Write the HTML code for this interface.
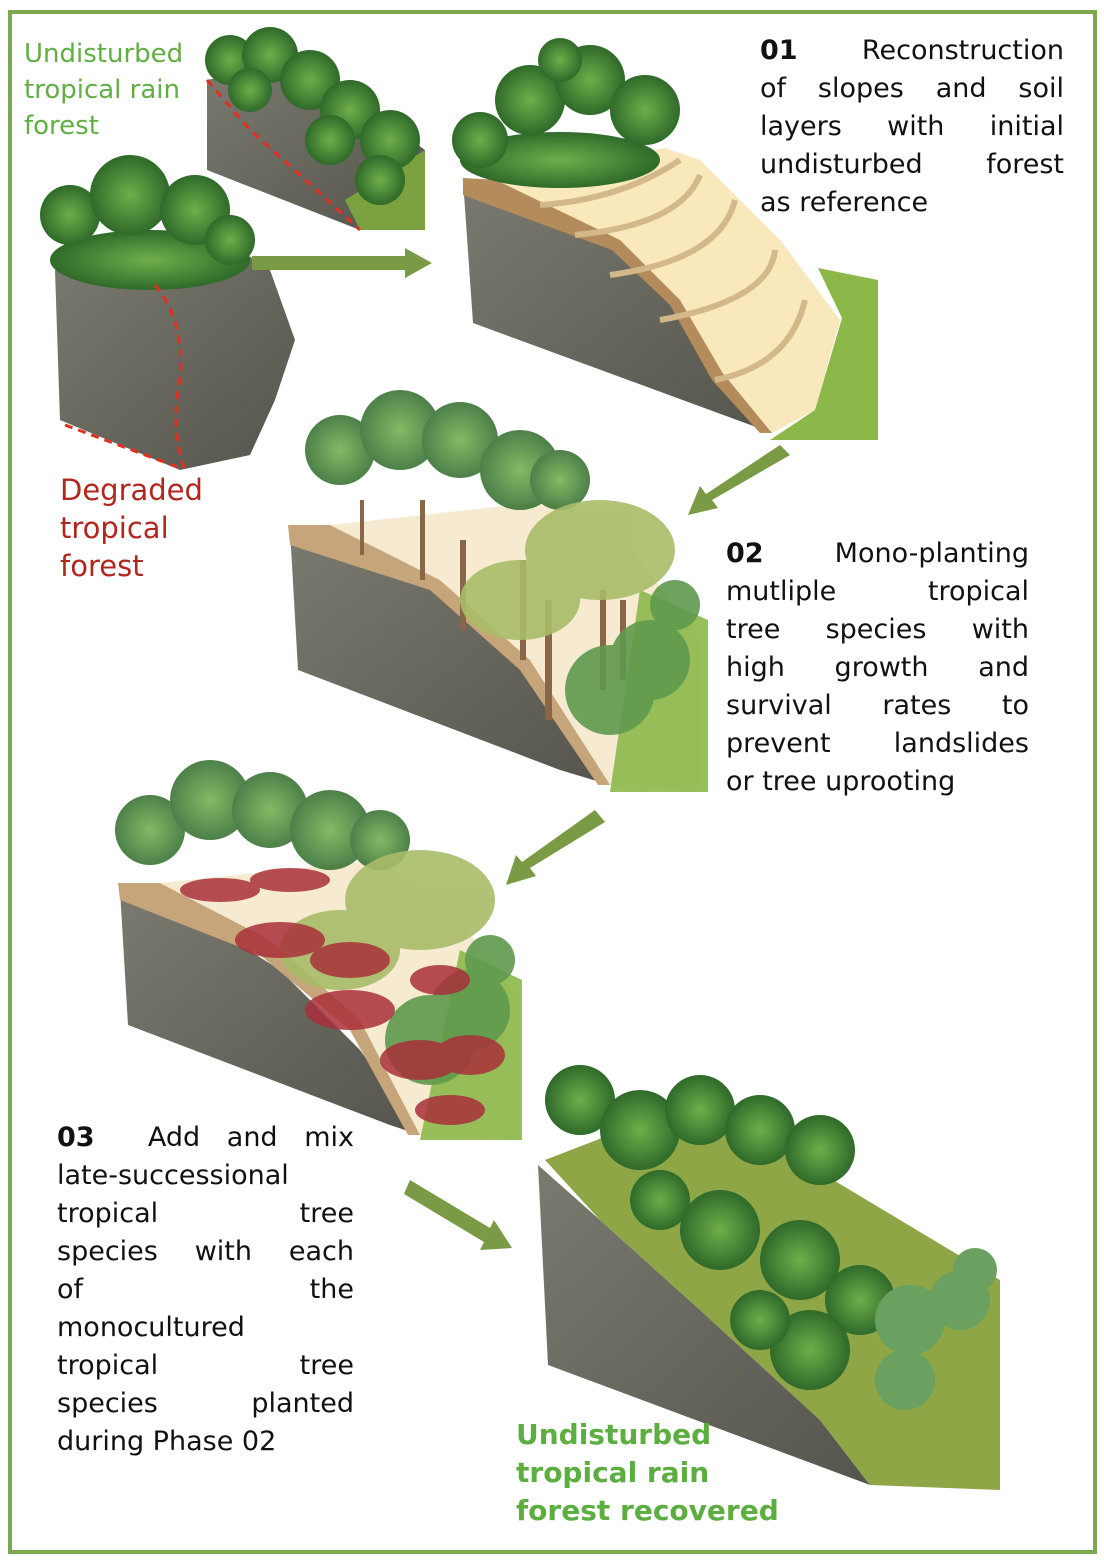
<!DOCTYPE html>
<html><head><meta charset="utf-8"><style>
html,body{margin:0;padding:0;background:#fff}
.wrap{position:relative;width:1104px;height:1560px;overflow:hidden}
.frame{position:absolute;left:8px;top:10px;width:1081px;height:1536px;border:4px solid #7ea84e}
svg{position:absolute;left:0;top:0}
.t{position:absolute;font-family:"DejaVu Sans","Liberation Sans",sans-serif;font-size:27px;line-height:38px;color:#111;white-space:nowrap}
.t div{text-align:justify;text-align-last:justify}
.t div.l{text-align:left;text-align-last:left}
.t b{font-weight:bold}
</style></head><body><div class="wrap">
<div class="frame"></div>
<svg width="1104" height="1560" viewBox="0 0 1104 1560">
<defs>
<linearGradient id="rk" x1="0" y1="0" x2="1" y2="1"><stop offset="0" stop-color="#7a7a70"/><stop offset="1" stop-color="#55554d"/></linearGradient>
<radialGradient id="tr"><stop offset="0" stop-color="#6fae4a"/><stop offset="1" stop-color="#2f6a2a"/></radialGradient>
</defs>
<polygon points="207,80 207,170 360,230 425,230 425,150 300,60" fill="url(#rk)"/>
<polygon points="345,200 425,150 425,230 360,230" fill="#7aa040"/>
<g fill="url(#tr)"><circle cx="230" cy="60" r="25"/><circle cx="270" cy="55" r="28"/><circle cx="310" cy="80" r="30"/><circle cx="350" cy="110" r="30"/><circle cx="390" cy="140" r="30"/><circle cx="250" cy="90" r="22"/><circle cx="330" cy="140" r="25"/><circle cx="380" cy="180" r="25"/></g>
<polyline points="207,80 250,130 300,175 360,230" fill="none" stroke="#e03020" stroke-width="3" stroke-dasharray="8,6"/>
<polygon points="55,270 60,420 180,470 250,455 275,400 295,340 270,270 240,250" fill="url(#rk)"/>
<g fill="url(#tr)"><ellipse cx="150" cy="260" rx="100" ry="30"/><circle cx="70" cy="215" r="30"/><circle cx="130" cy="195" r="40"/><circle cx="195" cy="210" r="35"/><circle cx="230" cy="240" r="25"/></g>
<path d="M155,285 Q185,320 180,380 Q170,430 185,470" fill="none" stroke="#e03020" stroke-width="3" stroke-dasharray="8,6"/>
<line x1="65" y1="425" x2="180" y2="468" stroke="#e03020" stroke-width="3" stroke-dasharray="8,6"/>
<polygon points="252,256 405,256 405,248 432,263 405,278 405,270 252,270" fill="#7a9a45"/>
<polygon points="463,180 473,323 737,420 770,432 720,375 680,300 620,240 500,185" fill="url(#rk)"/>
<polygon points="463,178 500,180 620,235 680,295 722,372 772,433 760,433 712,380 670,305 612,250 463,195" fill="#b48c5c"/>
<polygon points="500,182 665,148 700,160 780,240 840,320 815,410 772,433 722,372 680,300 620,240" fill="#f8e8bc"/>
<g fill="none" stroke="#d3b88a" stroke-width="6"><path d="M540,205 Q620,200 680,160"/><path d="M575,235 Q680,225 700,175"/><path d="M610,275 Q720,260 735,200"/><path d="M660,320 Q770,300 775,250"/><path d="M715,380 Q790,365 805,300"/></g>
<polygon points="818,268 878,280 878,440 770,440 815,410 842,318" fill="#8cb84a"/>
<g fill="url(#tr)"><ellipse cx="560" cy="160" rx="100" ry="28"/><circle cx="480" cy="140" r="28"/><circle cx="530" cy="100" r="35"/><circle cx="590" cy="80" r="35"/><circle cx="645" cy="110" r="35"/><circle cx="560" cy="60" r="22"/></g>
<polygon points="780,445 790,455 712,500 718,508 688,515 700,486 706,494" fill="#7a9a45"/>
<polygon points="290,530 298,670 560,770 610,785 560,700 480,620 380,545" fill="url(#rk)"/>
<polygon points="288,525 330,525 440,580 530,660 610,785 598,785 520,670 430,590 290,545" fill="#c5a579"/>
<polygon points="330,525 560,500 640,560 700,640 700,790 610,785 530,660 440,580" fill="#f6ead0"/>
<polygon points="640,590 708,620 708,792 610,792" fill="#8cb84a" opacity="0.9"/>
<g fill="#8a6648"><rect x="360" y="500" width="4" height="55"/><rect x="420" y="500" width="5" height="80"/><rect x="460" y="540" width="6" height="90"/><rect x="520" y="560" width="6" height="100"/><rect x="545" y="600" width="7" height="120"/><rect x="600" y="590" width="6" height="100"/><rect x="620" y="600" width="6" height="80"/></g>
<g fill="url(#tr)" opacity="0.85"><circle cx="340" cy="450" r="35"/><circle cx="400" cy="430" r="40"/><circle cx="460" cy="440" r="38"/><circle cx="520" cy="470" r="40"/><circle cx="560" cy="480" r="30"/></g>
<g fill="#a8bc68" opacity="0.9"><ellipse cx="600" cy="550" rx="75" ry="50"/><ellipse cx="520" cy="600" rx="60" ry="40"/></g>
<g fill="#5f9a4e" opacity="0.9"><circle cx="610" cy="690" r="45"/><circle cx="650" cy="660" r="40"/><circle cx="675" cy="605" r="25"/></g>
<polygon points="595,810 605,822 530,868 536,876 506,885 516,855 522,862" fill="#7a9a45"/>
<polygon points="120,890 128,1025 390,1125 420,1135 360,1050 280,970 170,900" fill="url(#rk)"/>
<polygon points="118,883 160,883 270,940 360,1020 420,1135 408,1135 350,1030 260,955 120,900" fill="#c5a579"/>
<polygon points="160,883 380,860 460,920 520,1000 520,1140 420,1135 360,1020 270,940" fill="#f6ead0"/>
<polygon points="460,950 522,980 522,1140 420,1140" fill="#8cb84a" opacity="0.9"/>
<g fill="url(#tr)" opacity="0.85"><circle cx="150" cy="830" r="35"/><circle cx="210" cy="800" r="40"/><circle cx="270" cy="810" r="38"/><circle cx="330" cy="830" r="40"/><circle cx="380" cy="840" r="30"/></g>
<g fill="#a8bc68" opacity="0.9"><ellipse cx="420" cy="900" rx="75" ry="50"/><ellipse cx="340" cy="950" rx="60" ry="40"/></g>
<g fill="#5f9a4e" opacity="0.9"><circle cx="430" cy="1040" r="45"/><circle cx="470" cy="1010" r="40"/><circle cx="490" cy="960" r="25"/></g>
<g fill="#a9303a" opacity="0.85"><ellipse cx="220" cy="890" rx="40" ry="12"/><ellipse cx="290" cy="880" rx="40" ry="12"/><ellipse cx="280" cy="940" rx="45" ry="18"/><ellipse cx="350" cy="960" rx="40" ry="18"/><ellipse cx="350" cy="1010" rx="45" ry="20"/><ellipse cx="440" cy="980" rx="30" ry="15"/><ellipse cx="420" cy="1060" rx="40" ry="20"/><ellipse cx="470" cy="1055" rx="35" ry="20"/><ellipse cx="450" cy="1110" rx="35" ry="15"/></g>
<polygon points="410,1180 490,1228 494,1220 512,1248 480,1250 484,1242 404,1194" fill="#7a9a45"/>
<polygon points="538,1165 548,1365 870,1485 820,1420 700,1310 600,1220" fill="url(#rk)"/>
<polygon points="545,1160 700,1100 1000,1280 1000,1490 870,1485 820,1420 700,1310 600,1220" fill="#8ea646"/>
<g fill="url(#tr)"><circle cx="580" cy="1100" r="35"/><circle cx="640" cy="1130" r="40"/><circle cx="700" cy="1110" r="35"/><circle cx="760" cy="1130" r="35"/><circle cx="820" cy="1150" r="35"/><circle cx="720" cy="1230" r="40"/><circle cx="800" cy="1260" r="40"/><circle cx="860" cy="1300" r="35"/><circle cx="810" cy="1350" r="40"/><circle cx="760" cy="1320" r="30"/><circle cx="660" cy="1200" r="30"/></g>
<g fill="#6aa060"><circle cx="910" cy="1320" r="35"/><circle cx="960" cy="1300" r="30"/><circle cx="975" cy="1270" r="22"/><circle cx="905" cy="1380" r="30"/></g>
</svg>
<div class="t" style="left:24px;top:36px;color:#62ae45;font-size:26px;line-height:36px"><div class="l">Undisturbed</div><div class="l">tropical rain</div><div class="l">forest</div></div>
<div class="t" style="left:60px;top:471px;color:#b3261e;font-size:29px"><div class="l">Degraded</div><div class="l">tropical</div><div class="l">forest</div></div>
<div class="t" style="left:760px;top:32px;width:304px"><div><b>01</b>&nbsp;&nbsp; Reconstruction</div><div>of slopes and soil</div><div>layers with initial</div><div>undisturbed forest</div><div class="l">as reference</div></div>
<div class="t" style="left:726px;top:535px;width:303px"><div><b>02</b>&nbsp;&nbsp; Mono-planting</div><div>mutliple tropical</div><div>tree species with</div><div>high growth and</div><div>survival rates to</div><div>prevent landslides</div><div class="l">or tree uprooting</div></div>
<div class="t" style="left:57px;top:1119px;width:297px"><div><b>03</b>&nbsp; Add and mix</div><div class="l">late-successional</div><div>tropical tree</div><div>species with each</div><div>of the</div><div class="l">monocultured</div><div>tropical tree</div><div>species planted</div><div class="l">during Phase 02</div></div>
<div class="t" style="left:516px;top:1416px;color:#5cae40;font-weight:bold;font-size:28px"><div class="l">Undisturbed</div><div class="l">tropical rain</div><div class="l">forest recovered</div></div>
</div></body></html>
